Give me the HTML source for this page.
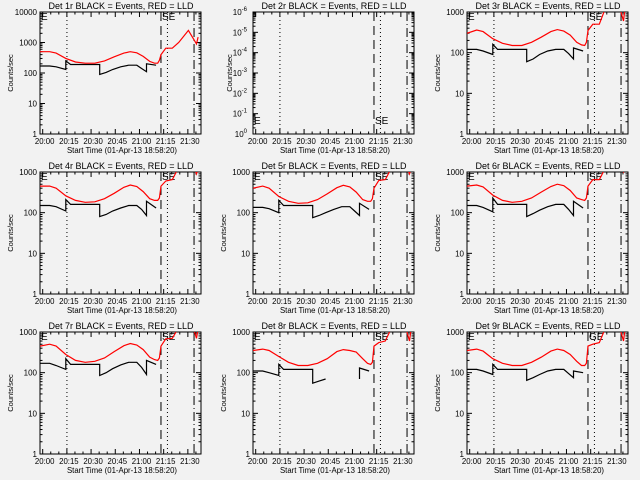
<!DOCTYPE html>
<html><head><meta charset="utf-8"><style>
body{margin:0;background:#f2f2f2;}
svg{display:block;font-family:"Liberation Sans",sans-serif;}
</style></head><body>
<svg id="c" width="640" height="480"></svg>
<script>
const titles=["Det 1r BLACK = Events, RED = LLD","Det 2r BLACK = Events, RED = LLD","Det 3r BLACK = Events, RED = LLD","Det 4r BLACK = Events, RED = LLD","Det 5r BLACK = Events, RED = LLD","Det 6r BLACK = Events, RED = LLD","Det 7r BLACK = Events, RED = LLD","Det 8r BLACK = Events, RED = LLD","Det 9r BLACK = Events, RED = LLD"];
const tickLabels=["20:00","20:15","20:30","20:45","21:00","21:15","21:30"];
const tickTimes=[1.667,16.667,31.667,46.667,61.667,76.667,91.667];
const eventTimes=[16.7,75,79,95.5];
const tR=[0,6,10,16,22,28,34,40,46,52,56,60,64,68,71,73,74,75,78,82,86,92,97,98];
const red1=[500,500,450,300,230,210,210,250,340,450,500,460,350,240,210,210,260,400,650,650,1000,2500,900,1500];
const red3=[300,360,330,220,170,150,150,180,240,330,370,340,270,180,155,150,180,350,500,500,1300,3000,600,1300];
const red4=[450,450,400,260,200,180,185,220,300,420,480,440,330,220,200,200,230,450,600,650,1300,3000,900,1200];
const red5=[400,450,400,250,190,170,175,210,290,410,470,430,320,210,190,190,220,400,620,650,1300,3000,900,1200];
const red6=[450,480,430,270,200,180,190,230,320,440,500,460,350,230,210,200,230,450,650,650,1300,3000,1000,1200];
const red7=[450,500,450,280,200,180,190,230,330,460,520,480,370,240,210,200,230,450,680,700,1300,3000,700,1200];
const red8=[350,380,350,250,180,150,150,170,220,330,370,350,320,220,170,160,180,450,550,600,1300,3000,600,1200];
const red9=[350,380,340,220,170,150,150,180,240,340,380,350,280,190,150,150,170,450,500,550,1300,3000,600,1200];
const tB=[0,6,10,16,16.01,19,37,37.01,41,45,50,55,60,63,66,66.01,72];
const blk1=[170,170,160,130,250,190,190,90,105,130,160,180,180,140,110,200,180];
const blk3=[120,120,110,90,160,120,120,60,70,90,110,120,120,95,70,130,110];
const blk4=[150,150,140,110,210,160,160,80,90,110,130,150,150,120,85,190,130];
const blk5=[135,135,125,100,200,150,150,75,85,100,120,140,140,110,85,170,120];
const blk6=[150,150,135,105,230,160,160,80,95,115,140,160,160,120,85,190,130];
const blk7=[170,170,150,120,220,160,160,85,100,125,155,180,180,135,90,200,160];
const blk8=[110,110,100,85,160,120,120,55,62,70,null,null,null,null,70,130,110];
const blk9=[120,120,110,90,160,120,120,65,75,90,110,120,120,95,75,110,100];
const reds=[red1,null,red3,red4,red5,red6,red7,red8,red9];
const blks=[blk1,null,blk3,blk4,blk5,blk6,blk7,blk8,blk9];
const decMin=[0,-6,0,0,0,0,0,0,0];
const decMax=[4,0,3,3,3,3,3,3,3];

const NS="http://www.w3.org/2000/svg";
const svg=document.getElementById('c');
function mk(tag,attrs,parent){const e=document.createElementNS(NS,tag);for(const k in attrs)e.setAttribute(k,attrs[k]);parent.appendChild(e);return e;}
const X0=40,X1=201,Y0=12,Y1=134,PPM=1.613;
function xs(t){return X0+PPM*t;}

for(let p=0;p<9;p++){
  const ox=Math.round((p%3)*213.33),oy=Math.floor(p/3)*160;
  const g=mk('g',{transform:`translate(${ox},${oy})`},svg);
  
  
  const lo=decMin[p],hi=decMax[p];
  const ys=v=>Y1-(Math.log10(v)-lo)/(hi-lo)*(Y1-Y0);
  const cp=mk('clipPath',{id:'cp'+p},g);mk('rect',{x:X0,y:Y0,width:X1-X0,height:Y1-Y0},cp);
  const title=mk('text',{x:121,y:9,'text-anchor':'middle','font-size':'9'},g);title.textContent=titles[p];
  
  
  const frame=mk('rect',{x:X0,y:Y0,width:X1-X0,height:Y1-Y0,fill:'none',stroke:'#000','stroke-width':1},g);
  
  
  for(let d=lo;d<=hi;d++){
    const y=ys(Math.pow(10,d));
    mk('line',{x1:X0,x2:X0+5,y1:y,y2:y,stroke:'#000'},g);
    mk('line',{x1:X1-5,x2:X1,y1:y,y2:y,stroke:'#000'},g);
    let lbl;
    if(p===1){lbl=mk('text',{x:34,y:y+3,'text-anchor':'end','font-size':'8'},g);lbl.textContent='10';const s=mk('tspan',{dy:-4,'font-size':'6'},lbl);const ex=-(d-lo);s.textContent=ex===0?'0':String(ex);}
    else{lbl=mk('text',{x:37,y:y+3,'text-anchor':'end','font-size':'8'},g);lbl.textContent=String(Math.pow(10,d));}
    
    
    if(d<hi)for(let m=2;m<10;m++){const ym=ys(m*Math.pow(10,d));
      mk('line',{x1:X0,x2:X0+2.5,y1:ym,y2:ym,stroke:'#000'},g);
      mk('line',{x1:X1-2.5,x2:X1,y1:ym,y2:ym,stroke:'#000'},g);}
  }
  for(let m=0;m<=95;m+=5){const t=m+1.667,x=xs(t);if(x>X1)break;const L=(m%15===0)?5:2.5;
    mk('line',{x1:x,x2:x,y1:Y1,y2:Y1-L,stroke:'#000'},g);mk('line',{x1:x,x2:x,y1:Y0,y2:Y0+L,stroke:'#000'},g);}
  tickTimes.forEach((t,i)=>{const tl=mk('text',{x:xs(t)+2,y:144,'text-anchor':'middle','font-size':'7.8'},g);tl.textContent=tickLabels[i];
    
    });
  const xt=mk('text',{x:122,y:153,'text-anchor':'middle','font-size':'7.8'},g);xt.textContent='Start Time (01-Apr-13 18:58:20)';
  
  
  const yx=p===1?19:13;
  const yt=mk('text',{x:yx,y:73,'text-anchor':'middle','font-size':'7.5',transform:`rotate(-90 ${yx} 73)`},g);yt.textContent='Counts/sec';
  
  
  const dashes=['1,3','9,5','1,3','9,3,1,3'];
  eventTimes.forEach((t,i)=>{const l=mk('line',{x1:xs(t),x2:xs(t),y1:Y0,y2:Y1,stroke:'#000','stroke-dasharray':dashes[i]},g);
    
    });
  const my=p===1?124:20;
  const e1=mk('text',{x:41,y:my,'font-size':'10'},g);e1.textContent='E';
  
  
  const e2=mk('text',{x:162,y:my,'font-size':'10'},g);e2.textContent=p===8?'GE':'SE';
  
  
  const cg=mk('g',{'clip-path':`url(#cp${p})`},g);
  function path(ts,vs){let d='',pen=false;ts.forEach((t,i)=>{const v=vs[i];if(v==null){pen=false;return;}d+=(pen?'L':'M')+xs(t).toFixed(1)+','+ys(v).toFixed(1);pen=true;});return d;}
  if(blks[p]){const b=mk('path',{d:path(tB,blks[p]),fill:'none',stroke:'#000','stroke-width':1.2},cg);
    
    }
  if(reds[p]){const r=mk('path',{d:path(tR,reds[p]),fill:'none',stroke:'#ff0000','stroke-width':1.2},cg);
    
    }
}
</script>
</body></html>
